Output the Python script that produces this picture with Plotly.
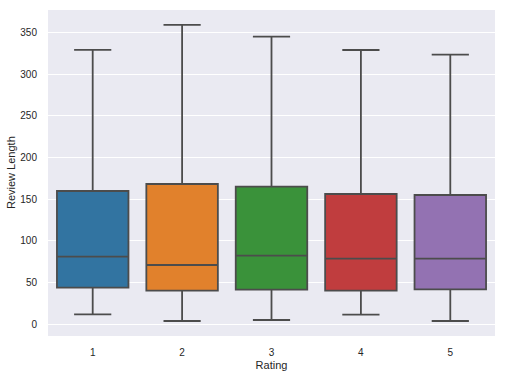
import plotly.graph_objects as go

categories = ["1", "2", "3", "4", "5"]
lower_whisker = [11.6, 3.6, 4.8, 11.2, 3.6]
q1_vals = [43.6, 40.0, 41.2, 40.0, 41.6]
medians = [80.8, 70.8, 82.0, 78.4, 78.4]
q3_vals = [159.6, 168.0, 164.8, 156.0, 154.8]
upper_whisker = [329.0, 359.0, 344.8, 328.8, 323.2]
colors = ["#3274a1", "#e1812c", "#3a923a", "#c03d3e", "#9372b2"]

fig = go.Figure()
for i, c in enumerate(categories):
    fig.add_trace(go.Box(
        x=[c], q1=[q1_vals[i]], median=[medians[i]], q3=[q3_vals[i]],
        lowerfence=[lower_whisker[i]], upperfence=[upper_whisker[i]],
        fillcolor=colors[i], line=dict(color="#4c4c4c", width=1.8),
        width=0.8, whiskerwidth=0.52, boxpoints=False, showlegend=False,
        hoverinfo="skip",
    ))

font_family = "Liberation Sans, Arial, DejaVu Sans, sans-serif"
fig.update_layout(
    width=505, height=377,
    margin=dict(l=48, r=10, t=10, b=41, autoexpand=False),
    paper_bgcolor="white", plot_bgcolor="#EAEAF2",
    boxmode="overlay",
    font=dict(family=font_family, color="#262626", size=10),
    xaxis=dict(
        type="category", range=[-0.5, 4.5], showgrid=False, zeroline=False,
        ticks="outside", ticklen=7, tickcolor="rgba(0,0,0,0)",
        title=dict(text="Rating", font=dict(size=11), standoff=4),
        tickfont=dict(size=10), automargin=False,
    ),
    yaxis=dict(
        range=[-14.4, 376.8], tickvals=[0, 50, 100, 150, 200, 250, 300, 350],
        showgrid=True, gridcolor="white", gridwidth=1, zeroline=False,
        ticks="outside", ticklen=8, tickcolor="rgba(0,0,0,0)",
        tickfont=dict(size=10), automargin=False,
    ),
    annotations=[dict(
        text="Review Length", textangle=-90, xref="paper", yref="paper",
        x=(11 - 48) / 447, y=0.5, xanchor="center", yanchor="middle",
        showarrow=False, font=dict(size=11, color="#262626"),
    )],
)

fig.write_html(
    "out.html",
    config={"displayModeBar": False, "staticPlot": True},
    post_script="document.body.style.margin='0';document.body.style.padding='0';",
)
